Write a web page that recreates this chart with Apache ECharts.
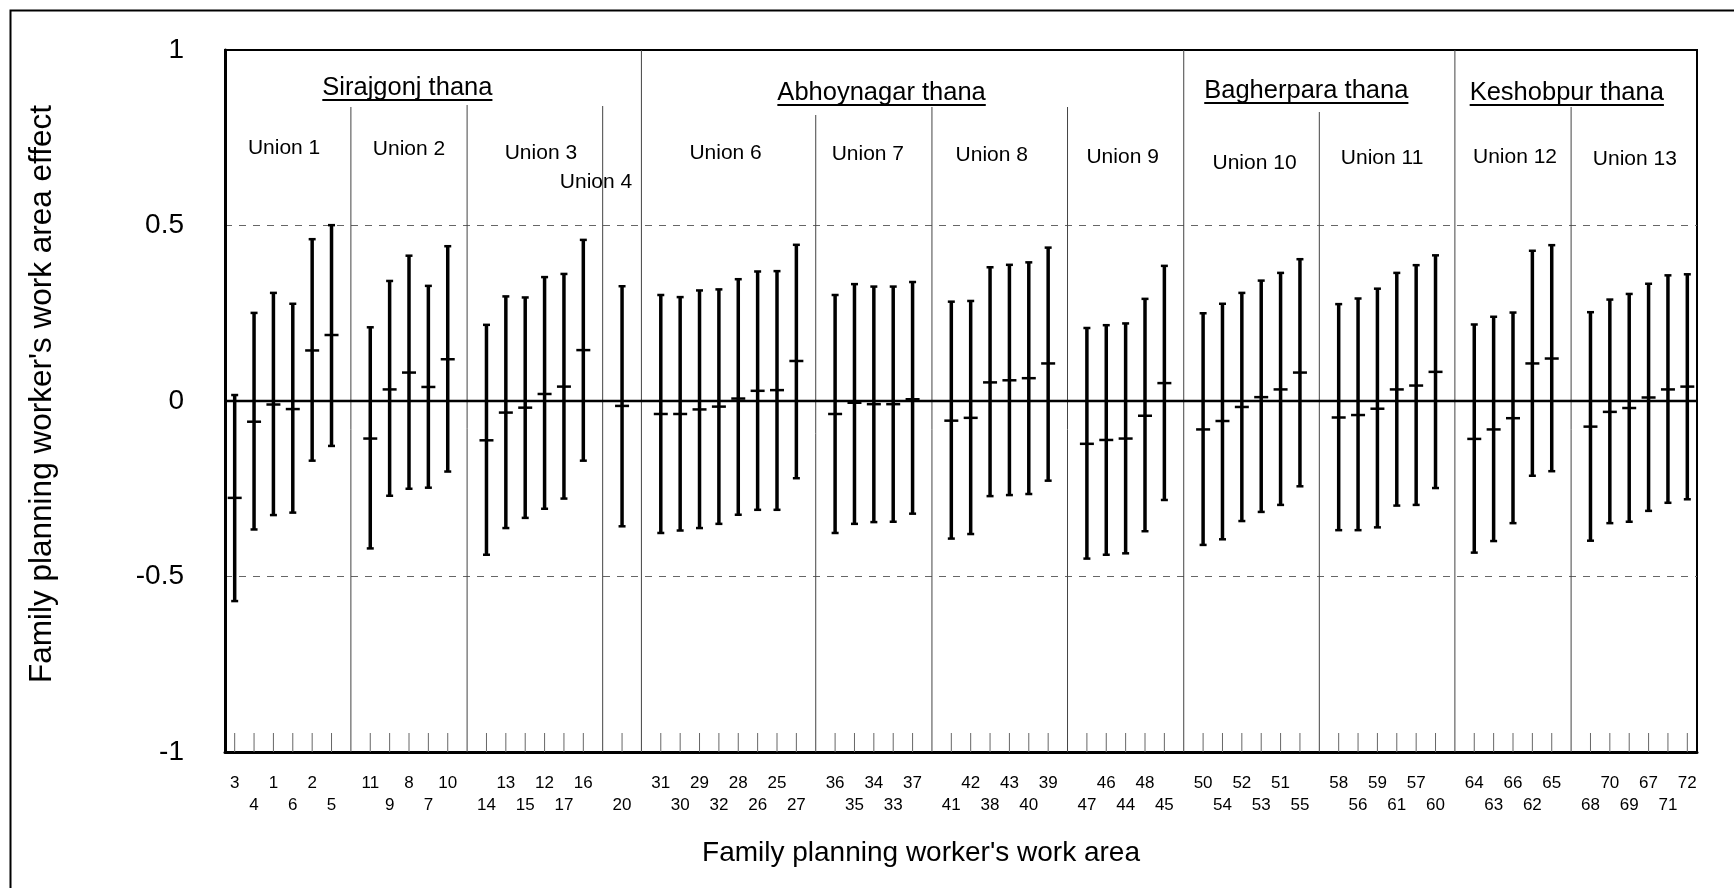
<!DOCTYPE html>
<html>
<head>
<meta charset="utf-8">
<title>Family planning worker's work area effect</title>
<script src="https://cdn.jsdelivr.net/npm/echarts@6/dist/echarts.min.js"></script>
<style>
  html, body { margin: 0; padding: 0; background: #fff; }
  #chart { width: 1734px; height: 888px; }
</style>
</head>
<body>
<div id="chart"></div>
<script>
// ---- Data ---------------------------------------------------------------
const thanaNames = ['Sirajgonj thana', 'Abhoynagar thana', 'Bagherpara thana', 'Keshobpur thana'];

const unionNames = ['Union 1', 'Union 2', 'Union 3', 'Union 4', 'Union 6', 'Union 7',
                    'Union 8', 'Union 9', 'Union 10', 'Union 11', 'Union 12', 'Union 13'];

// thana index of each union
const unionThana = [0, 0, 0, 0, 1, 1, 1, 1, 2, 2, 3, 3];

// work areas of each union, in plotting order
const unionAreas = [
  [3, 4, 1, 6, 2, 5],
  [11, 9, 8, 7, 10],
  [14, 13, 15, 12, 17, 16],
  [20],
  [31, 30, 29, 32, 28, 26, 25, 27],
  [36, 35, 34, 33, 37],
  [41, 42, 38, 43, 40, 39],
  [47, 46, 44, 48, 45],
  [50, 54, 52, 53, 51, 55],
  [58, 56, 59, 61, 57, 60],
  [64, 63, 66, 62, 65],
  [68, 70, 69, 67, 71, 72]
];

// estimated work area effect, same order as unionAreas flattened
const effect = [
  -0.276, -0.059, -0.010, -0.023, 0.144, 0.188,
  -0.107, 0.033, 0.081, 0.040, 0.119,
  -0.112, -0.033, -0.019, 0.020, 0.041, 0.145,
  -0.014,
  -0.037, -0.037, -0.024, -0.016, 0.007, 0.029, 0.031, 0.114,
  -0.037, -0.005, -0.009, -0.009, 0.005,
  -0.056, -0.048, 0.053, 0.059, 0.065, 0.107,
  -0.122, -0.111, -0.107, -0.042, 0.051,
  -0.081, -0.057, -0.017, 0.011, 0.033, 0.081,
  -0.047, -0.040, -0.022, 0.033, 0.044, 0.083,
  -0.108, -0.081, -0.049, 0.107, 0.121,
  -0.073, -0.031, -0.020, 0.010, 0.033, 0.041
];

// lower limit of the interval
const lower = [
  -0.570, -0.366, -0.325, -0.318, -0.170, -0.128,
  -0.420, -0.270, -0.250, -0.247, -0.201,
  -0.438, -0.362, -0.333, -0.307, -0.278, -0.170,
  -0.357,
  -0.376, -0.369, -0.362, -0.350, -0.324, -0.310, -0.310, -0.220,
  -0.376, -0.350, -0.345, -0.344, -0.321,
  -0.392, -0.379, -0.271, -0.268, -0.265, -0.227,
  -0.449, -0.438, -0.434, -0.371, -0.282,
  -0.410, -0.394, -0.342, -0.316, -0.296, -0.243,
  -0.368, -0.368, -0.360, -0.298, -0.296, -0.248,
  -0.432, -0.399, -0.348, -0.213, -0.200,
  -0.398, -0.348, -0.344, -0.313, -0.290, -0.280
];

// upper limit of the interval
const upper = [
  0.017, 0.251, 0.308, 0.277, 0.461, 0.501,
  0.210, 0.342, 0.414, 0.328, 0.441,
  0.217, 0.298, 0.295, 0.353, 0.362, 0.459,
  0.327,
  0.302, 0.296, 0.315, 0.318, 0.347, 0.369, 0.370, 0.445,
  0.302, 0.333, 0.326, 0.326, 0.339,
  0.283, 0.285, 0.381, 0.388, 0.395, 0.437,
  0.208, 0.216, 0.221, 0.291, 0.385,
  0.250, 0.277, 0.308, 0.343, 0.365, 0.404,
  0.276, 0.292, 0.320, 0.365, 0.387, 0.415,
  0.218, 0.240, 0.252, 0.428, 0.444,
  0.253, 0.289, 0.305, 0.334, 0.358, 0.361
];

// area numbers printed on the second (lower) label row
const lowerRowAreas = [4, 6, 5, 9, 7, 14, 15, 17, 20, 30, 32, 26, 27, 35, 33, 41, 38, 40,
                       47, 44, 45, 54, 53, 55, 56, 61, 60, 63, 62, 68, 69, 71];

const yTicks = { min: -1, max: 1, step: 0.5 };

// ---- Layout (pixels) ----------------------------------------------------
const FONT = "'Liberation Sans', Arial, Helvetica, sans-serif";
const UNION_LABEL_Y = [148, 149, 153, 182, 153, 154, 155, 157, 163, 158, 157, 159];
const UNION_LABEL_DX = [1, 0, 6, -26, -3, -6, -8, -3, 3, -5, 2, -4];
const THANA_LABEL_Y = [88, 93, 91, 93];
const THANA_LABEL_DX = [-21, -31, -13, -14];
const UNION_SEP_TOP = [107, 105, 106, 115, 107, 107, 112, 107];
const AREA_TICK_LEN = 19;

// ---- Slots along the x axis: work areas with a blank slot between unions
const slots = [];
const unionSpan = [];
let k = 0;
unionAreas.forEach((areas, u) => {
  if (u > 0) {
    slots.push({ sep: true, thanaEdge: unionThana[u] !== unionThana[u - 1], name: 'sep' + u });
  }
  const first = slots.length;
  areas.forEach(a => {
    slots.push({ sep: false, area: a, name: String(a), lo: lower[k], est: effect[k], hi: upper[k] });
    k++;
  });
  unionSpan.push([first, slots.length - 1]);
});
const nSlots = slots.length;

const barData = [];
slots.forEach((s, i) => { if (!s.sep) barData.push([i, s.lo, s.est, s.hi]); });

// [slot, kind, top]: kind 0 = area tick, 1 = union separator, 2 = thana separator
const guideData = [];
let unionSepIdx = 0;
slots.forEach((s, i) => {
  if (!s.sep) guideData.push([i, 0, 0]);
  else if (s.thanaEdge) guideData.push([i, 2, 0]);
  else guideData.push([i, 1, UNION_SEP_TOP[unionSepIdx++]]);
});

const unionLabelData = unionNames.map((n, u) => [(unionSpan[u][0] + unionSpan[u][1]) / 2, u]);
const thanaLabelData = thanaNames.map((n, t) => {
  const us = unionThana.map((th, u) => th === t ? u : -1).filter(u => u >= 0);
  const a = unionSpan[us[0]][0], b = unionSpan[us[us.length - 1]][1];
  return [(a + b) / 2, t];
});

const measureCtx = document.createElement('canvas').getContext('2d');
function textWidth(txt, font) { measureCtx.font = font; return measureCtx.measureText(txt).width; }

// ---- Chart --------------------------------------------------------------
const chart = echarts.init(document.getElementById('chart'), null, { renderer: 'canvas' });

const option = {
  backgroundColor: '#fff',
  animation: false,
  textStyle: { fontFamily: FONT },
  graphic: [{
    type: 'rect',
    left: 8, top: 8,
    shape: { width: 1900, height: 1000 },
    style: { fill: 'none', stroke: '#000', lineWidth: 2 },
    silent: true
  }],
  grid: {
    left: 225, right: 37, top: 50, bottom: 136,
    show: true, borderColor: '#000', borderWidth: 2, backgroundColor: 'transparent'
  },
  xAxis: [{
    type: 'category',
    data: slots.map(s => s.name),
    boundaryGap: true,
    position: 'bottom',
    name: "Family planning worker's work area",
    nameLocation: 'middle',
    nameGap: 87,
    nameTextStyle: { fontSize: 28, color: '#000', fontFamily: FONT, padding: [0, 80, 0, 0] },
    axisLine: { show: true, onZero: false, lineStyle: { color: '#000', width: 3 } },
    axisTick: { show: false },
    axisLabel: {
      interval: 0, margin: 20, fontSize: 17, lineHeight: 22, color: '#000', fontFamily: FONT,
      formatter: (val, idx) => {
        const s = slots[idx];
        if (!s || s.sep) return '';
        return lowerRowAreas.includes(s.area) ? '\n' + s.area : String(s.area);
      }
    },
    splitLine: { show: false }
  }, {
    type: 'value',
    min: -0.5, max: nSlots - 0.5,
    show: false,
    position: 'top',
    axisLine: { show: false, onZero: false }
  }],
  yAxis: {
    type: 'value',
    position: 'left',
    min: yTicks.min, max: yTicks.max, interval: yTicks.step,
    name: "Family planning worker's work area effect",
    nameLocation: 'middle',
    nameGap: 167,
    nameTextStyle: { fontSize: 31.5, color: '#000', fontFamily: FONT, padding: [0, 0, 0, 14] },
    axisLine: { show: true, onZero: false, lineStyle: { color: '#000', width: 3 } },
    axisTick: { show: false },
    axisLabel: { fontSize: 28, color: '#000', margin: 41, fontFamily: FONT },
    splitLine: {
      show: true, showMinLine: false, showMaxLine: false,
      lineStyle: { color: '#666', width: 1, type: [7, 7] }
    }
  },
  series: [
    {
      // area ticks on the bottom axis and union / thana separators
      type: 'custom',
      xAxisIndex: 0,
      silent: true,
      z: 2,
      data: guideData,
      renderItem: (params, api) => {
        const i = api.value(0);
        const kind = api.value(1);
        const bottom = api.coord([i, yTicks.min]);
        let topY, color;
        if (kind === 0) { topY = bottom[1] - AREA_TICK_LEN; color = '#666'; }
        else if (kind === 1) { topY = api.value(2); color = '#444'; }
        else { topY = api.coord([i, yTicks.max])[1]; color = '#444'; }
        return {
          type: 'line',
          shape: { x1: bottom[0], y1: bottom[1], x2: bottom[0], y2: topY },
          style: { stroke: color, lineWidth: 1 }
        };
      }
    },
    {
      // zero reference line
      type: 'custom',
      xAxisIndex: 0,
      silent: true,
      z: 3,
      data: [[0, 0]],
      renderItem: (params, api) => {
        const cs = params.coordSys;
        const y = api.coord([0, 0])[1];
        return {
          type: 'line',
          shape: { x1: cs.x, y1: y, x2: cs.x + cs.width, y2: y },
          style: { stroke: '#000', lineWidth: 2.5 }
        };
      }
    },
    {
      // intervals with point estimates
      type: 'custom',
      xAxisIndex: 0,
      silent: true,
      z: 4,
      data: barData,
      encode: { x: 0, y: [1, 2, 3] },
      renderItem: (params, api) => {
        const i = api.value(0);
        const lo = api.coord([i, api.value(1)]);
        const mid = api.coord([i, api.value(2)]);
        const hi = api.coord([i, api.value(3)]);
        const x = lo[0];
        const cap = 3.5, tick = 7;
        return {
          type: 'group',
          children: [
            { type: 'line', shape: { x1: x, y1: lo[1], x2: x, y2: hi[1] }, style: { stroke: '#000', lineWidth: 3.5 } },
            { type: 'line', shape: { x1: x - cap, y1: hi[1], x2: x + cap, y2: hi[1] }, style: { stroke: '#000', lineWidth: 2.5 } },
            { type: 'line', shape: { x1: x - cap, y1: lo[1], x2: x + cap, y2: lo[1] }, style: { stroke: '#000', lineWidth: 2.5 } },
            { type: 'line', shape: { x1: x - tick, y1: mid[1], x2: x + tick, y2: mid[1] }, style: { stroke: '#000', lineWidth: 2.5 } }
          ]
        };
      }
    },
    {
      // union names
      type: 'custom',
      xAxisIndex: 1,
      silent: true,
      z: 5,
      data: unionLabelData,
      renderItem: (params, api) => {
        const u = api.value(1);
        const p = api.coord([api.value(0), 0]);
        return {
          type: 'text',
          style: {
            text: unionNames[u],
            x: p[0] + UNION_LABEL_DX[u], y: UNION_LABEL_Y[u],
            fill: '#000', font: '21px ' + FONT,
            align: 'center', verticalAlign: 'middle',
            textAlign: 'center', textVerticalAlign: 'middle'
          }
        };
      }
    },
    {
      // underlined thana names
      type: 'custom',
      xAxisIndex: 1,
      silent: true,
      z: 5,
      data: thanaLabelData,
      renderItem: (params, api) => {
        const t = api.value(1);
        const p = api.coord([api.value(0), 0]);
        const font = '25.5px ' + FONT;
        const cx = p[0] + THANA_LABEL_DX[t];
        const cy = THANA_LABEL_Y[t];
        const w = textWidth(thanaNames[t], font);
        return {
          type: 'group',
          children: [
            {
              type: 'text',
              style: {
                text: thanaNames[t], x: cx, y: cy, fill: '#000', font: font,
                align: 'center', verticalAlign: 'middle',
                textAlign: 'center', textVerticalAlign: 'middle'
              }
            },
            {
              type: 'line',
              shape: { x1: cx - w / 2, y1: cy + 12, x2: cx + w / 2, y2: cy + 12 },
              style: { stroke: '#000', lineWidth: 1.8 }
            }
          ]
        };
      }
    }
  ]
};

chart.setOption(option);
</script>
</body>
</html>
